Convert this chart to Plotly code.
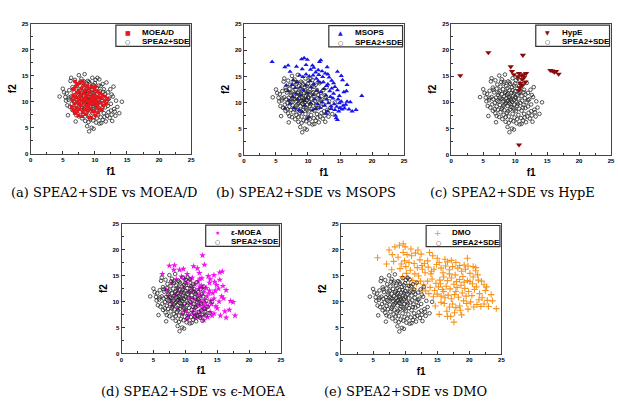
import plotly.graph_objects as go

W, H = 618, 410

# ---------------- data (f1, f2) ----------------
spea2_sde = [
    (4.5, 11.0), (5.0, 12.5), (5.2, 11.8), (5.4, 10.9), (5.6, 11.6), (5.7, 9.3), (5.8, 7.4), (5.9, 10.4), (6.0, 12.2), (6.1, 9.0),
    (6.2, 14.0), (6.3, 14.6), (6.3, 11.0), (6.4, 9.6), (6.5, 12.8), (6.5, 8.4), (6.6, 10.6), (6.7, 11.9), (6.8, 9.9), (6.9, 14.2),
    (6.9, 7.9), (7.0, 6.2), (7.0, 10.9), (7.1, 12.6), (7.1, 9.2), (7.2, 13.4), (7.3, 8.6), (7.3, 11.4), (7.4, 10.1), (7.5, 15.1),
    (7.5, 7.2), (7.6, 12.1), (7.6, 9.5), (7.7, 13.0), (7.7, 8.1), (7.8, 10.7), (7.9, 14.4), (7.9, 11.6), (8.0, 6.8), (8.0, 9.0),
    (8.1, 12.5), (8.1, 10.2), (8.2, 13.6), (8.2, 7.6), (8.3, 11.1), (8.3, 8.5), (8.4, 15.3), (8.4, 9.7), (8.5, 12.0), (8.5, 6.3),
    (8.6, 10.8), (8.6, 13.1), (8.7, 8.0), (8.7, 11.5), (8.8, 5.3), (8.8, 9.3), (8.8, 12.7), (8.9, 10.3), (8.9, 14.0), (9.0, 7.3),
    (9.0, 11.0), (9.1, 4.3), (9.1, 9.8), (9.1, 12.3), (9.2, 8.6), (9.2, 13.5), (9.3, 10.6), (9.3, 6.6), (9.4, 11.8), (9.4, 9.1),
    (9.5, 5.0), (9.5, 12.9), (9.5, 10.1), (9.6, 7.8), (9.6, 14.6), (9.7, 11.3), (9.7, 8.9), (9.8, 4.8), (9.8, 10.5), (9.8, 13.2),
    (9.9, 7.1), (9.9, 9.6), (10.0, 12.1), (10.0, 11.0), (10.1, 14.2), (10.1, 8.3), (10.2, 10.0), (10.2, 6.0), (10.3, 12.6), (10.3, 9.3),
    (10.4, 14.6), (10.4, 11.5), (10.5, 7.6), (10.5, 10.7), (10.6, 8.8), (10.6, 13.1), (10.7, 14.3), (10.7, 5.8), (10.8, 9.9), (10.8, 12.0),
    (10.9, 7.0), (11.0, 5.9), (11.0, 11.2), (11.0, 8.4), (11.1, 10.3), (11.2, 13.4), (11.2, 6.5), (11.3, 9.5), (11.4, 12.4), (11.4, 7.8),
    (11.5, 10.8), (11.6, 11.5), (11.6, 8.9), (11.7, 6.2), (11.8, 13.7), (11.8, 10.0), (11.9, 7.3), (12.0, 11.8), (12.0, 9.2), (12.1, 8.0),
    (12.2, 10.6), (12.3, 6.9), (12.4, 12.4), (12.5, 9.6), (12.6, 7.5), (12.7, 6.3), (12.8, 11.0), (12.9, 12.9), (13.0, 8.6), (13.1, 8.1),
    (13.2, 7.3), (13.3, 10.2), (13.8, 7.8), (14.2, 10.0), (13.5, 9.0),
    (8.0, 10.6), (8.4, 11.8), (8.6, 9.9), (8.9, 11.7), (9.2, 10.9), (9.4, 10.4), (9.6, 12.3), (9.8, 11.7), (10.1, 10.8), (7.4, 11.8),
    (7.2, 10.3), (8.2, 9.4), (8.7, 10.2), (9.3, 9.6), (9.9, 8.6), (7.9, 8.7), (8.5, 7.2), (10.4, 9.7), (6.6, 12.4), (7.8, 13.9),
    (8.3, 13.9), (9.1, 13.8), (10.0, 13.6), (10.9, 13.0), (11.3, 11.9), (6.0, 10.8), (5.5, 10.2), (6.8, 8.7), (7.1, 7.4), (9.0, 6.1),
    (9.7, 6.4), (10.3, 6.8), (11.5, 7.1), (12.5, 8.3), (12.0, 10.4), (12.6, 11.4), (11.2, 9.0), (10.6, 11.8), (7.6, 10.9), (8.9, 8.3),
]

moead = [
    (6.4, 9.0), (6.5, 10.3), (6.6, 8.4), (6.6, 11.2), (6.7, 12.4), (6.8, 9.6), (6.9, 13.9), (6.9, 7.8), (7.0, 10.8), (7.0, 12.9),
    (7.1, 8.9), (7.2, 11.7), (7.3, 9.9), (7.3, 13.4), (7.4, 7.4), (7.5, 12.1), (7.5, 10.4), (7.6, 8.5), (7.7, 11.0), (7.7, 13.7),
    (7.8, 9.3), (7.9, 12.6), (8.0, 7.2), (8.0, 10.2), (8.1, 13.9), (8.1, 8.0), (8.2, 11.6), (8.3, 13.2), (8.3, 9.8), (8.4, 8.6),
    (8.5, 12.2), (8.5, 10.9), (8.6, 7.6), (8.7, 9.2), (8.8, 11.3), (8.8, 13.0), (8.9, 8.3), (9.0, 10.0), (9.0, 12.5), (9.1, 7.0),
    (9.2, 9.5), (9.2, 11.8), (9.3, 8.7), (9.4, 6.9), (9.4, 10.7), (9.5, 12.9), (9.6, 8.1), (9.7, 11.4), (9.8, 9.7), (9.9, 8.2),
    (9.9, 12.3), (10.0, 10.4), (10.1, 7.4), (10.2, 11.0), (10.3, 9.0), (10.4, 9.4), (10.4, 12.0), (10.5, 7.9), (10.6, 10.8), (10.7, 8.6),
    (10.8, 11.6), (10.9, 9.8), (11.0, 10.7), (11.1, 8.4), (11.2, 11.3), (11.3, 9.3), (11.5, 10.2), (11.6, 11.0), (11.8, 9.6), (12.0, 10.6),
    (7.2, 8.2), (7.6, 9.6), (8.2, 10.5), (8.7, 10.3), (9.5, 10.1), (9.8, 10.9), (8.9, 9.0), (7.9, 11.4), (10.3, 10.0), (10.1, 12.9),
]

msops = [
    (4.4, 17.8), (6.4, 16.8), (6.9, 17.1), (7.2, 15.9), (7.7, 14.3), (9.0, 18.3), (9.4, 18.5), (9.9, 18.2), (10.7, 17.1), (11.8, 17.8),
    (12.0, 18.1), (11.6, 16.2), (12.2, 16.0), (13.0, 16.8), (12.7, 15.6), (13.1, 15.4), (13.7, 14.2), (14.0, 13.7), (14.6, 15.9), (15.2, 15.1),
    (16.1, 13.4), (16.0, 12.2), (16.1, 10.2), (16.6, 10.1), (17.5, 8.6), (16.9, 8.3), (18.4, 11.3), (14.6, 12.4), (13.9, 10.8), (14.4, 7.0),
    (14.6, 6.7), (14.3, 7.5), (14.8, 8.3), (15.0, 9.0), (15.3, 8.7), (15.5, 9.4), (14.9, 9.9), (15.7, 8.9), (14.5, 9.2), (15.2, 10.2),
    (14.2, 8.6), (13.6, 9.3), (13.2, 9.9), (12.8, 11.4), (12.5, 12.6), (12.9, 13.2), (13.4, 12.2), (11.9, 13.8), (11.3, 14.6), (10.8, 15.2),
    (10.2, 15.0), (9.7, 15.4), (9.2, 14.9), (8.7, 15.2), (8.3, 13.9), (8.0, 12.8), (7.5, 13.4), (6.9, 12.2), (6.4, 8.9), (7.2, 9.8),
    (7.8, 9.0), (8.4, 10.6), (8.9, 11.4), (9.3, 12.4), (9.6, 13.3), (10.0, 11.8), (10.5, 12.9), (10.9, 13.6), (11.4, 12.3), (11.8, 11.0),
    (12.2, 10.1), (12.6, 9.4), (13.0, 8.3), (11.5, 9.7), (11.0, 10.6), (10.4, 9.9), (9.8, 10.8), (9.5, 9.4), (9.1, 8.2), (10.1, 7.2),
    (10.7, 8.5), (11.2, 8.8), (12.0, 12.0), (12.4, 13.9), (13.3, 14.8), (11.7, 15.3), (10.4, 16.3), (9.1, 16.4), (8.2, 16.9), (9.7, 17.2),
    (10.9, 16.7), (11.2, 15.8), (12.9, 10.6), (13.5, 11.1), (14.0, 11.7), (14.9, 11.3), (15.6, 12.0), (14.2, 13.0), (13.7, 12.7), (15.4, 14.3),
    (8.6, 8.6), (9.9, 6.9), (8.1, 11.7), (8.8, 12.9), (10.3, 14.1), (11.6, 14.1), (12.3, 14.9), (13.1, 13.5), (7.6, 11.1), (7.0, 10.4),
    (6.6, 13.3), (9.4, 10.3), (10.8, 11.4), (11.9, 9.0), (12.8, 7.9), (13.6, 8.8), (14.7, 10.6), (15.9, 9.6), (16.4, 8.7), (14.1, 9.7),
]

hype = [
    (1.4, 15.1), (5.8, 19.5), (11.2, 19.0), (9.3, 16.8), (9.5, 15.9), (9.8, 15.3), (10.6, 15.5), (11.0, 15.1), (11.3, 15.3), (11.7, 15.5),
    (11.1, 14.4), (10.8, 13.6), (11.6, 13.9), (11.1, 13.3), (10.7, 12.8), (10.6, 12.3), (15.5, 16.1), (15.8, 16.0), (16.1, 15.8), (16.4, 15.9),
    (16.8, 15.4), (10.6, 1.9), (10.4, 14.9), (11.4, 14.8),
]

eps_moea = [
    (6.4, 15.3), (7.5, 16.9), (8.3, 17.0), (8.2, 16.1), (9.1, 16.1), (9.7, 16.3), (11.3, 16.8), (12.7, 18.9), (13.0, 17.1), (13.6, 14.9),
    (12.3, 14.4), (14.5, 15.1), (15.4, 15.6), (15.8, 15.8), (15.4, 14.2), (14.9, 13.2), (15.9, 13.0), (16.4, 12.2), (15.2, 12.5), (14.5, 10.6),
    (17.1, 10.1), (17.5, 9.9), (16.9, 8.4), (17.8, 7.3), (16.4, 6.9), (15.5, 7.3), (14.5, 7.7), (13.9, 8.0), (8.8, 8.7), (8.8, 12.6),
    (7.0, 12.3), (7.9, 13.6), (8.6, 14.3), (9.4, 14.8), (10.3, 15.3), (11.1, 14.6), (12.0, 13.9), (12.5, 13.1), (12.1, 12.4), (11.7, 11.6),
    (12.4, 11.2), (12.9, 11.9), (13.3, 12.6), (13.0, 10.3), (12.6, 9.8), (12.2, 9.4), (11.8, 10.2), (12.7, 8.8), (13.2, 8.5), (12.3, 8.1),
    (11.9, 7.6), (12.5, 7.2), (13.1, 7.5), (13.6, 9.1), (14.1, 9.5), (14.3, 11.6), (14.7, 12.1), (13.8, 13.6), (12.2, 15.5), (11.5, 13.3),
    (11.0, 12.7), (10.6, 11.9), (11.3, 10.6), (10.9, 9.6), (11.5, 8.6), (11.1, 8.0), (10.5, 7.4), (10.0, 8.2), (9.6, 9.3), (9.1, 10.4),
    (9.3, 11.8), (9.8, 12.7), (10.2, 13.6), (8.4, 11.2), (7.8, 10.0), (7.3, 11.0), (8.0, 9.2), (9.5, 7.6), (10.3, 6.6), (11.6, 6.9),
    (12.9, 6.4), (13.5, 7.0), (14.0, 10.2), (13.4, 11.0), (12.8, 12.7), (12.0, 11.0), (11.7, 9.2), (12.9, 9.2), (13.7, 11.6), (14.6, 13.8),
    (15.7, 11.0), (16.2, 8.1), (15.0, 8.7), (14.2, 7.3), (13.8, 12.1), (12.4, 10.0), (11.3, 12.1), (10.7, 10.8), (12.1, 7.0), (13.2, 9.7),
    (12.6, 14.5), (11.9, 16.4), (10.8, 14.1), (9.9, 14.4), (14.8, 9.1), (16.0, 10.6), (15.3, 10.0), (13.9, 14.3), (12.3, 12.9), (11.4, 7.4),
]

dmo = [
    (5.7, 18.5), (7.5, 20.0), (8.4, 20.6), (9.7, 21.2), (10.0, 20.6), (7.1, 17.3), (7.9, 16.2), (9.9, 17.9), (9.7, 19.5), (11.0, 18.9),
    (12.5, 19.2), (13.5, 17.9), (14.3, 18.9), (15.3, 17.6), (16.6, 17.7), (17.9, 17.6), (19.7, 18.4), (19.2, 17.1), (21.0, 16.6), (21.0, 16.0),
    (19.7, 14.1), (20.5, 13.5), (22.3, 13.3), (22.5, 12.2), (22.8, 10.3), (23.0, 9.1), (24.2, 8.7), (21.8, 9.1), (21.2, 9.5), (20.2, 10.0),
    (18.8, 7.5), (17.6, 6.1), (16.6, 7.2), (17.1, 7.2), (16.1, 9.7), (17.9, 8.9),
    (8.2, 17.8), (8.9, 18.6), (9.4, 17.3), (10.3, 19.1), (10.6, 17.6), (9.2, 16.4), (10.1, 16.8), (10.8, 16.1), (11.4, 17.4), (11.9, 16.6),
    (12.3, 18.1), (11.5, 15.4), (12.1, 15.0), (12.7, 16.3), (13.1, 15.6), (13.6, 16.7), (14.0, 15.4), (14.5, 16.3), (14.9, 17.2), (15.6, 16.5),
    (15.9, 15.6), (16.3, 16.9), (16.9, 16.2), (17.4, 16.8), (18.2, 16.5), (18.8, 15.9), (19.4, 16.3), (20.1, 15.5), (20.6, 14.8), (21.4, 14.2),
    (19.0, 14.9), (18.5, 14.3), (17.8, 15.2), (17.2, 14.6), (16.6, 14.1), (16.0, 14.8), (15.4, 14.2), (14.8, 13.6), (14.2, 14.4), (13.5, 14.0),
    (12.9, 13.3), (12.4, 14.0), (11.8, 13.5), (11.2, 14.1), (10.7, 13.3), (10.4, 14.6), (13.9, 12.8), (14.6, 12.2), (15.2, 12.9), (15.8, 12.4),
    (16.4, 13.0), (17.0, 12.5), (17.6, 13.4), (18.1, 12.8), (18.7, 13.2), (19.3, 12.6), (19.9, 12.0), (20.8, 12.4), (21.6, 11.6), (22.0, 10.8),
    (19.5, 11.1), (18.9, 11.7), (18.3, 10.9), (17.7, 11.4), (17.2, 10.6), (16.7, 11.3), (16.2, 10.8), (15.6, 11.1), (15.0, 11.5), (14.4, 11.0),
    (13.7, 11.6), (13.2, 12.1), (16.0, 12.0), (17.4, 9.6), (18.5, 9.2), (19.1, 10.2), (20.4, 11.2), (21.5, 10.4), (22.7, 12.9), (23.4, 11.4),
    (16.9, 9.0), (15.6, 9.9), (17.7, 7.9), (19.8, 8.6), (15.3, 7.6), (14.7, 9.2), (20.7, 9.0), (13.0, 17.4), (12.0, 20.0), (11.6, 19.4),
    (10.9, 20.2), (9.1, 20.9), (8.0, 19.1), (13.8, 19.5), (15.0, 18.4), (16.2, 18.2), (17.2, 18.0), (18.5, 17.0), (19.8, 16.9), (20.6, 16.8),
    (21.3, 15.2), (18.0, 13.9), (14.1, 15.9), (12.6, 17.0), (10.2, 15.5), (9.6, 14.9), (11.3, 12.5), (12.7, 12.3), (15.5, 13.5), (16.9, 15.4),
    (17.9, 12.0), (19.2, 13.8), (20.1, 13.9), (21.9, 14.0), (22.3, 9.6), (23.6, 10.2), (21.1, 12.9), (19.6, 9.7), (18.6, 8.4), (16.5, 8.2),
]

axis_ticks = [0, 5, 10, 15, 20, 25]
axis_range = [0, 25]

# ---------------- panel layout (pixels) and styles ----------------
panels = [
    dict(name="MOEA/D", pts=moead, symbol="square", color="#e8161b", size=3.6, lw=0, on_top=True,
         box=(29, 191, 21, 153), caption="(a) SPEA2+SDE vs MOEA/D", cap=(103, 192),
         glyph="■", gsize=6),
    dict(name="MSOPS", pts=msops, symbol="triangle-up", color="#1515f0", size=4.6, lw=0, on_top=False,
         box=(244.3, 406, 21.5, 154), caption="(b) SPEA2+SDE vs MSOPS", cap=(307, 192),
         glyph="▲", gsize=6),
    dict(name="HypE", pts=hype, symbol="triangle-down", color="#8c0a0a", size=5.5, lw=0, on_top=True,
         box=(453.7, 615, 21, 154), caption="(c) SPEA2+SDE vs HypE", cap=(515, 192),
         glyph="▼", gsize=6),
    dict(name="ε-MOEA", pts=eps_moea, symbol="star", color="#f013f0", size=5, lw=0, on_top=False,
         box=(120.7, 281.7, 224, 355.7), caption="(d) SPEA2+SDE vs ϵ-MOEA", cap=(193, 394),
         glyph="★", gsize=6),
    dict(name="DMO", pts=dmo, symbol="cross-thin", color="#f7941d", size=4.6, lw=1.1, on_top=False,
         box=(342.3, 504.3, 224.3, 356), caption="(e) SPEA2+SDE vs DMO", cap=(407, 394),
         glyph="+", gsize=9),
]


def pxx(p):
    return p / W


def pxy(p):
    return 1 - p / H


fig = go.Figure()
shapes = []
annotations = []
label_font = dict(family="Liberation Sans", size=8, color="black")
tick_text = [f"<b>{t}</b>" for t in axis_ticks]

for i, p in enumerate(panels, start=1):
    xa = "x" if i == 1 else f"x{i}"
    ya = "y" if i == 1 else f"y{i}"
    fx = [q[0] for q in p["pts"]]
    fy = [q[1] for q in p["pts"]]
    marker = dict(symbol=p["symbol"], size=p["size"], color=p["color"])
    if p["lw"]:
        marker["line"] = dict(color=p["color"], width=p["lw"])
    other = go.Scatter(x=fx, y=fy, mode="markers", name=p["name"], xaxis=xa, yaxis=ya,
                       marker=marker, showlegend=False)
    sx = [q[0] for q in spea2_sde]
    sy = [q[1] for q in spea2_sde]
    spea = go.Scatter(x=sx, y=sy, mode="markers", name="SPEA2+SDE", xaxis=xa, yaxis=ya,
                      marker=dict(symbol="circle-open", size=3.6,
                                  color="#2a2a2a", line=dict(width=0.8)),
                      showlegend=False)
    if p["on_top"]:
        fig.add_trace(spea)
        fig.add_trace(other)
    else:
        fig.add_trace(other)
        fig.add_trace(spea)

    x0, x1, y0, y1 = p["box"]
    axis_common = dict(
        range=axis_range, tickvals=axis_ticks, ticktext=tick_text, ticks="inside", ticklen=3,
        tickwidth=1, tickcolor="#333", showline=True, linecolor="#444", linewidth=1.2, mirror=True,
        showgrid=False, zeroline=False,
        tickfont=dict(family="Liberation Sans", size=6, color="black"),
        minor=dict(ticks="inside", ticklen=2, tickwidth=1, tickcolor="#333", dtick=2.5, showgrid=False),
    )
    fig.update_layout(**{
        ("xaxis" if i == 1 else f"xaxis{i}"): dict(
            axis_common, domain=[pxx(x0), pxx(x1)], anchor=ya,
            title=dict(text="<b>f1</b>", standoff=5,
                       font=dict(family="Liberation Sans", size=10, color="black"))),
        ("yaxis" if i == 1 else f"yaxis{i}"): dict(
            axis_common, domain=[pxy(y1), pxy(y0)], anchor=xa,
            title=dict(text="<b>f2</b>", standoff=3,
                       font=dict(family="Liberation Sans", size=10, color="black"))),
    })

    # legend box
    R, T = x1, y0
    shapes.append(dict(type="rect", xref="paper", yref="paper",
                       x0=pxx(R - 76), x1=pxx(R - 1.5), y0=pxy(T + 23), y1=pxy(T + 1.5),
                       line=dict(color="#333", width=1.2), fillcolor="white", layer="above"))
    annotations.append(dict(x=pxx(R - 64), y=pxy(T + 8.7), xref="paper", yref="paper",
                            text=p["glyph"], showarrow=False, xanchor="center", yanchor="middle",
                            font=dict(family="DejaVu Sans", size=p["gsize"], color=p["color"])))
    annotations.append(dict(x=pxx(R - 64), y=pxy(T + 18.5), xref="paper", yref="paper",
                            text="<b>○</b>", showarrow=False, xanchor="center", yanchor="middle",
                            font=dict(family="DejaVu Sans", size=6, color="#222")))
    annotations.append(dict(x=pxx(R - 52), y=pxy(T + 8.7), xref="paper", yref="paper",
                            text=f"<b>{p['name']}</b>", showarrow=False, xanchor="left",
                            yanchor="middle", font=label_font))
    annotations.append(dict(x=pxx(R - 52), y=pxy(T + 18.5), xref="paper", yref="paper",
                            text="<b>SPEA2+SDE</b>", showarrow=False, xanchor="left",
                            yanchor="middle", font=label_font))
    # caption
    annotations.append(dict(x=pxx(p["cap"][0]), y=pxy(p["cap"][1]), xref="paper", yref="paper",
                            text=p["caption"], showarrow=False, xanchor="center", yanchor="middle",
                            font=dict(family="DejaVu Serif", size=13, color="black")))

fig.update_layout(
    width=W, height=H, margin=dict(l=0, r=0, t=0, b=0),
    paper_bgcolor="white", plot_bgcolor="white",
    showlegend=False, shapes=shapes, annotations=annotations,
)

fig.write_html("out.html")
